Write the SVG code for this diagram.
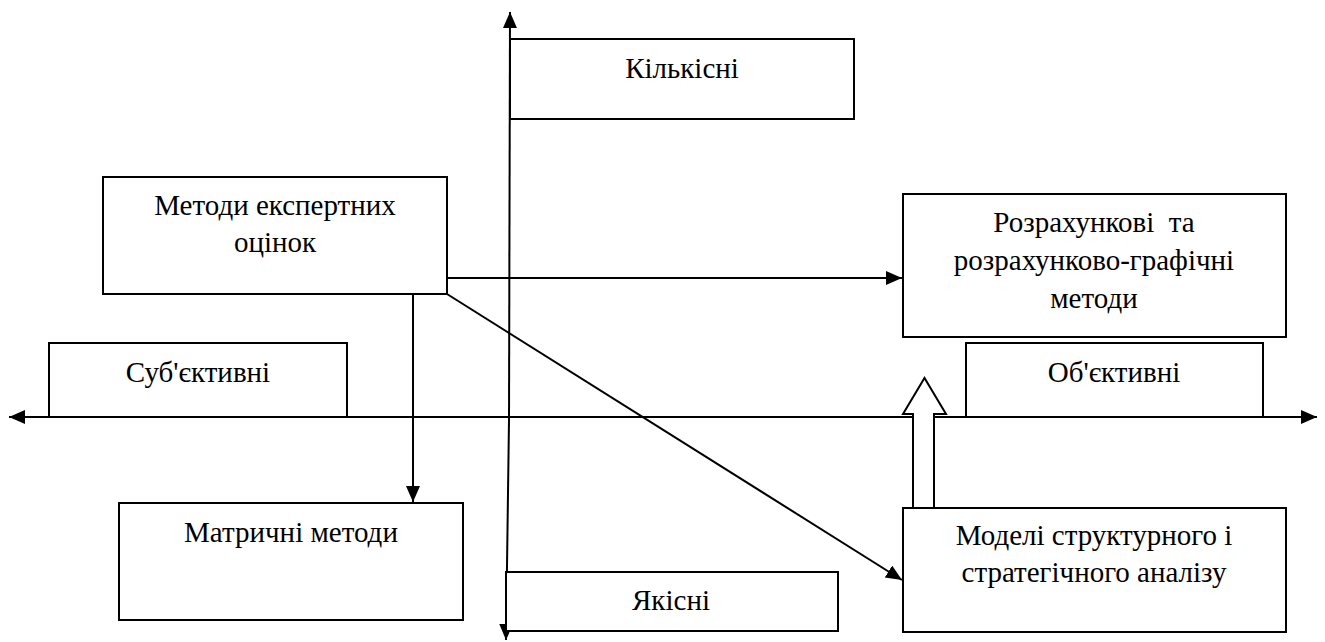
<svg xmlns="http://www.w3.org/2000/svg" width="1325" height="642" viewBox="0 0 1325 642">
<defs>
<style>
.box{fill:#fff;stroke:#000;stroke-width:2}
.ln{fill:none;stroke:#000;stroke-width:2}
.t{font-family:'Liberation Serif','Times New Roman',Tinos,'DejaVu Serif',serif;font-size:29px;fill:#000;text-anchor:middle}
</style>
<marker id="ah" markerUnits="userSpaceOnUse" markerWidth="18" markerHeight="16" refX="16" refY="7" orient="auto">
<path d="M0,0 L16,7 L0,14 z" fill="#000"/>
</marker>
</defs>
<rect width="1325" height="642" fill="#fff"/>
<g id="axes">
<line class="ln" x1="509" y1="420" x2="510" y2="12" marker-end="url(#ah)"/>
<line class="ln" x1="509" y1="420" x2="506" y2="640" marker-end="url(#ah)"/>
<line class="ln" x1="660" y1="417" x2="9" y2="417" marker-end="url(#ah)"/>
<line class="ln" x1="660" y1="417" x2="1317" y2="417" marker-end="url(#ah)"/>
</g>
<g id="kilkisni"><rect class="box" x="510" y="39" width="344" height="80"/><text class="t" x="682" y="78">Кількісні</text></g>
<g id="subiektyvni"><rect class="box" x="49" y="343" width="298" height="74"/><text class="t" x="198" y="382">Суб'єктивні</text></g>
<g id="obiektyvni"><rect class="box" x="966" y="343" width="297" height="74"/><text class="t" x="1114" y="382">Об'єктивні</text></g>
<g id="yakisni"><rect class="box" x="506" y="572" width="332" height="59"/><text class="t" x="671" y="610">Якісні</text></g>
<g id="ekspertni"><rect class="box" x="103" y="177" width="344" height="117"/><text class="t" x="275" y="215">Методи експертних</text><text class="t" x="275" y="252">оцінок</text></g>
<g id="rozrakhunkovi"><rect class="box" x="903" y="194" width="383" height="143"/><text class="t" x="1094" y="232" xml:space="preserve">Розрахункові  та</text><text class="t" x="1094" y="270">розрахунково-графічні</text><text class="t" x="1094" y="308">методи</text></g>
<g id="matrychni"><rect class="box" x="119" y="503" width="344" height="117"/><text class="t" x="291" y="542">Матричні методи</text></g>
<g id="modeli"><rect class="box" x="903" y="508" width="383" height="124"/><text class="t" x="1094" y="545">Моделі структурного і</text><text class="t" x="1094" y="582">стратегічного аналізу</text></g>
<g id="connectors">
<line class="ln" x1="447" y1="278" x2="902" y2="278" marker-end="url(#ah)"/>
<line class="ln" x1="413" y1="294" x2="413" y2="502" marker-end="url(#ah)"/>
<line class="ln" x1="447" y1="294" x2="902" y2="580" marker-end="url(#ah)"/>
<polygon class="box" points="913,508 913,414 903,414 924.5,378 946,414 934,414 934,508"/>
</g>
</svg>
